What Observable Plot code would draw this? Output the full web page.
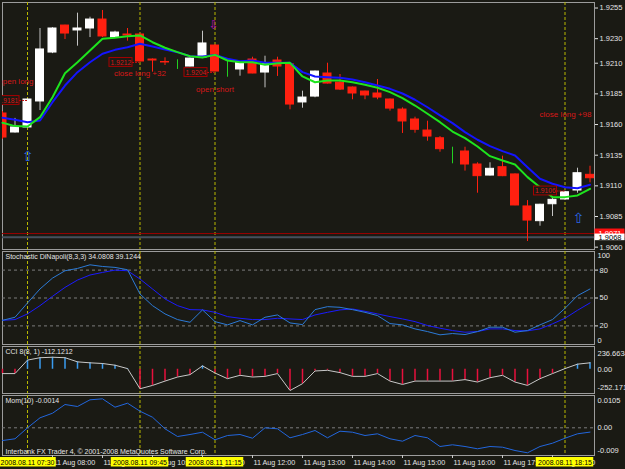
<!DOCTYPE html>
<html><head><meta charset="utf-8">
<script src="https://cdn.jsdelivr.net/npm/d3@7"></script>
<script src="https://cdn.jsdelivr.net/npm/@observablehq/plot@0.6"></script>
<style>
html,body{margin:0;padding:0;background:#1a1a14;}
#chart{position:relative;width:625px;height:469px;background:#1a1a14;overflow:hidden;}
#chart > svg{position:absolute;left:0;}
</style></head><body><div id="chart"></div>
<script>
// ---------- data ----------
const times = ["07:00","07:15","07:30","07:45","08:00","08:15","08:30","08:45","09:00","09:15",
"09:30","09:45","10:00","10:15","10:30","10:45","11:00","11:15","11:30","11:45",
"12:00","12:15","12:30","12:45","13:00","13:15","13:30","13:45","14:00","14:15",
"14:30","14:45","15:00","15:15","15:30","15:45","16:00","16:15","16:30","16:45",
"17:00","17:15","17:30","17:45","18:00","18:15","18:30","18:45"];
const open = [1.91690,1.91535,1.91576,1.91788,1.92187,1.92407,1.92367,1.92383,1.92456,1.92309,
1.92334,1.92334,1.92130,1.92110,1.92095,1.92073,1.92146,1.92244,1.92035,1.92049,
1.92130,1.92024,1.92122,1.92090,1.91780,1.91828,1.92016,1.91942,1.91902,1.91869,
1.91853,1.91804,1.91722,1.91641,1.91551,1.91488,1.91394,1.91380,1.91274,1.91184,
1.91252,1.91193,1.90932,1.90812,1.90950,1.90989,1.91062,1.91190];
const high = [1.91705,1.91650,1.91810,1.92383,1.92390,1.92410,1.92508,1.92475,1.92530,1.92361,
1.92383,1.92340,1.92135,1.92144,1.92128,1.92150,1.92361,1.92250,1.92122,1.92106,
1.92149,1.92157,1.92149,1.92095,1.91872,1.92036,1.92100,1.92008,1.91906,1.91872,
1.91967,1.91808,1.91736,1.91660,1.91627,1.91502,1.91415,1.91415,1.91288,1.91288,
1.91342,1.91197,1.90980,1.90950,1.91003,1.91056,1.91244,1.91260];
const low = [1.91480,1.91530,1.91570,1.91714,1.92178,1.92293,1.92239,1.92309,1.92310,1.92305,
1.92280,1.92110,1.92027,1.92081,1.92049,1.92070,1.92138,1.92030,1.91986,1.91994,
1.92014,1.91899,1.91992,1.91720,1.91733,1.91818,1.91930,1.91877,1.91802,1.91802,
1.91802,1.91709,1.91527,1.91529,1.91464,1.91374,1.91280,1.91220,1.91040,1.91180,
1.91175,1.90938,1.90646,1.90771,1.90850,1.90985,1.91040,1.91125];
const close = [1.91494,1.91576,1.91804,1.92212,1.92383,1.92342,1.92383,1.92456,1.92318,1.92350,
1.92326,1.92114,1.92122,1.92106,1.92095,1.92138,1.92261,1.92032,1.92035,1.92106,
1.92016,1.92098,1.92073,1.91763,1.91820,1.92032,1.91934,1.91885,1.91853,1.91837,
1.91820,1.91730,1.91625,1.91557,1.91502,1.91399,1.91394,1.91274,1.91179,1.91239,
1.91179,1.90940,1.90817,1.90946,1.90986,1.91048,1.91203,1.91162];
const maSlow = [1.91655,1.91639,1.91619,1.91633,1.91782,1.91918,1.92027,1.92108,1.92177,1.92209,
1.92230,1.92258,1.92236,1.92212,1.92190,1.92157,1.92155,1.92168,1.92136,1.92116,
1.92122,1.92103,1.92103,1.92103,1.92027,1.91992,1.91986,1.91981,1.91967,1.91945,
1.91918,1.91891,1.91853,1.91802,1.91741,1.91674,1.91611,1.91538,1.91476,1.91424,
1.91383,1.91348,1.91252,1.91158,1.91117,1.91089,1.91081,1.91109];
const maFast = [1.91614,1.91587,1.91584,1.91660,1.91823,1.92018,1.92108,1.92203,1.92299,1.92307,
1.92320,1.92326,1.92271,1.92226,1.92190,1.92157,1.92146,1.92168,1.92122,1.92108,
1.92108,1.92087,1.92100,1.92103,1.91992,1.91945,1.91959,1.91959,1.91945,1.91924,
1.91900,1.91864,1.91816,1.91755,1.91688,1.91619,1.91543,1.91489,1.91421,1.91342,
1.91307,1.91274,1.91171,1.91089,1.91008,1.91008,1.91022,1.91076];
const stochMain = [26,29.3,44.7,59.7,71.4,79.3,81.8,85.7,83.9,82.9,
80.4,54.3,41.8,32.9,26.8,23.9,37.2,24.6,21.1,25.7,
21.1,29.3,31.8,23.2,21.4,37.5,40.7,40,37.5,34.6,
31.1,22.5,21.1,16.8,13.9,10.4,11.8,10.7,13.9,18.6,
18.6,13.2,15,21.1,26.8,38.9,52.5,59.7];
const stochSignal = [26,26.8,32.9,41.8,51.8,61.4,69.3,74.7,77.5,80,
79.3,70.4,59.7,49,41.8,37.5,37.2,34.6,30,28.2,
26.8,26.8,28.2,27.5,26.8,31.8,34.6,37.2,38.2,35.7,
32.9,30,27.5,24.6,20.4,17.5,15,13.2,13.9,16.8,
16.8,15,14.7,16.8,22.2,28.2,36.8,44.7];
const cci = [-45,-45,95,120,125,120,77,67,60,42,
7,-203,-168,-123,-81,-56,35,-39,-98,-63,
-81,-74,-45,-221,-150,-18,-11,-35,-74,-74,
-45,-123,-158,-123,-123,-123,-123,-108,-133,-88,
-63,-133,-168,-98,-45,7,53,67];
const mom = [-0.00413,-0.00357,0,0.00325,0.00474,0.00757,0.00692,0.0091,0.00942,0.0067,
0.008,0.0054,0.00344,-0.00032,-0.00283,-0.00218,-0.00143,-0.0039,-0.0025,-0.00218,
-0.00338,0,-0.00032,-0.00325,-0.00218,-0.00088,-0.00325,-0.0011,-0.00143,-0.0025,
-0.00195,-0.00357,-0.00435,-0.0025,-0.00325,-0.00608,-0.00552,-0.00608,-0.00682,-0.00608,
-0.0063,-0.00738,-0.00812,-0.00608,-0.005,-0.00338,-0.00195,-0.0014];

const priceTicks = [1.9255,1.9230,1.9210,1.9185,1.9160,1.9135,1.9110,1.9085,1.9060];
const stochLevels = [80,50,20];
const stochEnds = [100,0];
const cciTicks = [236.6634,0,-252.171];
const cciTickLabels = ["236.6634","0.00","-252.171"];
const momTicks = [0.0105,0,-0.009];
const momTickLabels = ["0.0105","0.00","-0.009"];
const hourBars = [4,8,12,16,20,24,28,32,36,40,44];
const hourLabels = ["11 Aug 08:00","11 Aug 09:00","11 Aug 10:00","11 Aug 11:00","11 Aug 12:00","11 Aug 13:00","11 Aug 14:00","11 Aug 15:00","11 Aug 16:00","11 Aug 17:00","11 Aug 18:00"];
const orderBars = [2,11,17,45];
const orderLabels = ["2008.08.11 07:30","2008.08.11 09:45","2008.08.11 11:15","2008.08.11 18:15"];
const noteTexts = ["open long","close long +32","open short","close long +98"];
const noteBars = [2.48,11,17,45.04];
const notePrices = [1.91953,1.92016,1.91886,1.91682];
const noteAnchors = ["end","middle","middle","middle"];
const boxTexts = ["1.9181","1.9212","1.9204","1.9106"];
const boxBars = [0.44,9.48,15.48,43.44];
const boxPrices = [1.91796,1.92106,1.92024,1.91058];
const boxTargets = [2,11,17,45];
const upArrowBars = [2,46.06];
const upArrowPrices = [1.9134,1.90834];
const downArrowBars = [16.9];
const downArrowPrices = [1.92407];
const askPrice = 1.90711, askLabel = "1.9071";
const bidPrice = 1.9068, bidLabel = "1.9068";
const stochTitle = "Stochastic DiNapoli(8,3,3) 34.0808 39.1244";
const cciTitle = "CCI 8(8, 1) -112.1212";
const momTitle = "Mom(10) -0.0014";
const footer = "Interbank FX Trader 4, \u00a9 2001-2008 MetaQuotes Software Corp.";

// ---------- build ----------
const chart = document.getElementById("chart");
const FONT = "'Liberation Sans', Arial, sans-serif";
const X = {domain:[0,47], range:[2,589.5], axis:null};
const FRAME = "#9c9c9c", ORDER = "#b8b800", LEVEL = "#7c7c7c", TXT = "#e4e4e4";
function add(top, height, mt, mb, y, marks){
  const svg = Plot.plot({width:625, height, marginLeft:2, marginRight:31, marginTop:mt, marginBottom:mb,
    x:X, y:{...y, axis:null},
    style:{background:"transparent", color:TXT, fontFamily:FONT, fontSize:"7.5px", overflow:"visible"},
    marks});
  svg.style.position="absolute"; svg.style.top=top+"px"; svg.style.left="0px";
  svg.style.maxWidth="none";
  chart.appendChild(svg);
}
const idx = (d,i)=>i;
const bars = times.map((t,i)=>({i,t,open:open[i],high:high[i],low:low[i],close:close[i]}));
const bodyColor = d => d.close>d.open ? "#ffffff" : d.close<d.open ? "#ff2010" : "#22d022";
const wickColor = d => d.close>d.open ? "#c4c4c4" : bodyColor(d);
const notes = noteTexts.map((s,k)=>({s,i:noteBars[k],p:notePrices[k],a:noteAnchors[k]}));
const boxes = boxTexts.map((s,k)=>({s,i:boxBars[k],p:boxPrices[k],t:boxTargets[k]}));
const BW = 0.92, BH = 0.00036;
const orderRule = Plot.ruleX(orderBars, {x:d=>d, stroke:ORDER, strokeDasharray:"3,2"});
function rightLabels(ticks, labels, top, bottom){
  return ticks.map((v,k)=>Plot.text([v], {frameAnchor:"right", y:d=>d, text:()=>labels[k], textAnchor:"start", dx:3,
    dy: k===0 ? top : (k===ticks.length-1 ? bottom : 0), fill:TXT, fontSize:7.5}));
}
const noteMarks = ["end","middle"].map(a => Plot.text(notes.filter(n=>n.a===a),
  {x:"i", y:"p", text:"s", textAnchor:a, fill:"#d81818", fontSize:8, clip:true}));

// main price panel
add(0, 250, 2, 1, {domain:[1.90581,1.92595]}, [
  Plot.frame({stroke:FRAME}),
  orderRule,
  Plot.ruleY([askPrice], {stroke:"#9a0000"}),
  Plot.ruleY([bidPrice], {stroke:"#46505c", strokeWidth:2}),
  Plot.ruleX(bars, {x:"i", y1:"low", y2:"high", stroke:wickColor, clip:true}),
  Plot.rect(bars, {x1:d=>d.i-0.32, x2:d=>d.i+0.32, y1:"open", y2:"close", fill:bodyColor, stroke:bodyColor, clip:true}),
  Plot.line(maSlow, {x:idx, y:d=>d, stroke:"#1414ff", strokeWidth:2}),
  Plot.line(maFast, {x:idx, y:d=>d, stroke:"#1ee41e", strokeWidth:2}),
  Plot.ruleY(boxes, {y:"p", x1:d=>d.i+BW, x2:"t", stroke:"#c01010", strokeDasharray:"2,1"}),
  Plot.rect(boxes, {x1:d=>d.i-BW, x2:d=>d.i+BW, y1:d=>d.p-BH, y2:d=>d.p+BH, fill:"#1a1a14", stroke:"#a80000", clip:true}),
  Plot.text(boxes, {x:"i", y:"p", text:"s", fill:"#d81818", fontSize:6.8, clip:true}),
  ...noteMarks,
  Plot.text(upArrowBars, {x:d=>d, y:(d,k)=>upArrowPrices[k], text:()=>"\u21e7", fill:"#2a66e6", fontSize:14, fontFamily:"DejaVu Sans"}),
  Plot.text(downArrowBars, {x:d=>d, y:(d,k)=>downArrowPrices[k], text:()=>"\u21e9", fill:"#c010c0", fontSize:12, fontFamily:"DejaVu Sans"}),
  Plot.axisY({anchor:"right", ticks:priceTicks, tickFormat:d=>d.toFixed(4), tickSize:3, tickPadding:2, fontSize:7.5}),
  Plot.rect([askPrice], {x1:47.4, x2:49.8, y1:d=>d-0.00037, y2:d=>d+0.00037, fill:"#ff1010"}),
  Plot.text([askPrice], {x:48.6, y:d=>d, text:()=>askLabel, fill:"#ffffff", fontSize:7.5}),
  Plot.rect([bidPrice], {x1:47.4, x2:49.8, y1:d=>d-0.00027, y2:d=>d+0.00027, fill:"#ffffff"}),
  Plot.text([bidPrice], {x:48.6, y:d=>d, text:()=>bidLabel, fill:"#000000", fontSize:7.5})
]);

// stochastic panel
add(250, 95, 1, 1, {domain:[0,100]}, [
  Plot.frame({stroke:FRAME}),
  Plot.ruleY(stochLevels, {stroke:LEVEL, strokeDasharray:"3,3"}),
  orderRule,
  Plot.line(stochSignal, {x:idx, y:d=>d, stroke:"#1a1aff", strokeWidth:1}),
  Plot.line(stochMain, {x:idx, y:d=>d, stroke:"#2c7ad6", strokeWidth:1}),
  Plot.text([stochTitle], {frameAnchor:"top-left", text:d=>d, dx:3, dy:3, fill:TXT, fontSize:7}),
  Plot.axisY({anchor:"right", ticks:stochLevels, tickSize:3, tickPadding:2, fontSize:7.5}),
  ...rightLabels(stochEnds, stochEnds.map(String), 4, -4)
]);

// CCI panel
add(345, 49, 1, 1, {domain:[-252.171,236.6634]}, [
  Plot.frame({stroke:FRAME}),
  orderRule,
  Plot.ruleX(cci, {x:idx, y1:0, y2:d=>d, stroke:d=>d>=0?"#3a9cf0":"#e8103c", strokeWidth:1.5}),
  Plot.line(cci, {x:idx, y:d=>d, stroke:"#c8c8c8", strokeWidth:1}),
  Plot.text([cciTitle], {frameAnchor:"top-left", text:d=>d, dx:3, dy:3, fill:TXT, fontSize:7}),
  ...rightLabels(cciTicks, cciTickLabels, 7, -6)
]);

// Momentum panel
add(394, 62, 1, 1, {domain:[-0.009,0.0105]}, [
  Plot.frame({stroke:FRAME}),
  Plot.ruleY([0], {stroke:LEVEL, strokeDasharray:"3,3"}),
  orderRule,
  Plot.line(mom, {x:idx, y:d=>d, stroke:"#2266dd", strokeWidth:1}),
  Plot.text([momTitle], {frameAnchor:"top-left", text:d=>d, dx:3, dy:3, fill:TXT, fontSize:7}),
  Plot.text([footer], {frameAnchor:"bottom-left", text:d=>d, dx:3, dy:-2, fill:TXT, fontSize:7}),
  ...rightLabels(momTicks, momTickLabels, 5, -5)
]);

// time axis strip
add(455, 14, 0, 0, {domain:[0,14], range:[0,14]}, [
  Plot.ruleX(hourBars, {x:d=>d, y1:0, y2:3, stroke:"#c8c8c8"}),
  Plot.text(hourBars, {x:d=>d, y:7.5, text:(d,k)=>hourLabels[k], textAnchor:"start", dx:1, fill:TXT, fontSize:7.2}),
  Plot.rect(orderBars, {x1:d=>d-2.3, x2:d=>d+2.3, y1:2, y2:11.5, fill:"#ffff00"}),
  Plot.text(orderBars, {x:d=>d, y:7, text:(d,k)=>orderLabels[k], fill:"#000000", fontSize:7})
]);
</script></body></html>
